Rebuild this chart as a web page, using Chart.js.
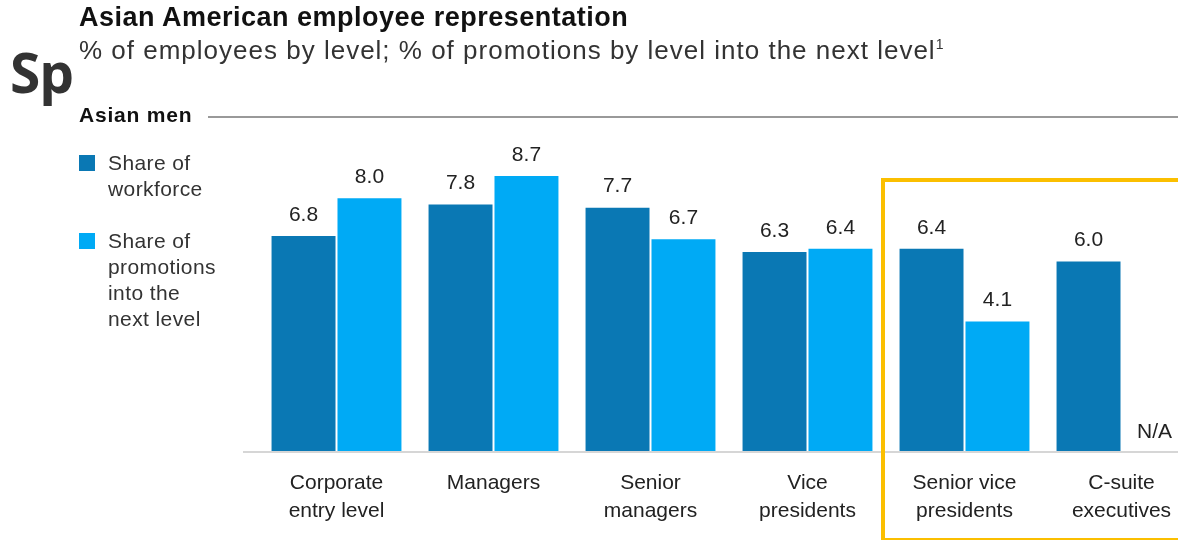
<!DOCTYPE html>
<html>
<head>
<meta charset="utf-8">
<script src="https://cdn.jsdelivr.net/npm/chart.js@4"></script>
<style>
  html, body { margin: 0; padding: 0; background: #fff; overflow: hidden; }
  body { width: 1178px; height: 540px; position: relative; font-family: "Liberation Sans", Arial, sans-serif; color: #222; }
  #wrap { position: absolute; left: 0; top: 0; width: 1210px; height: 540px; }
  .t { position: absolute; white-space: nowrap; }
  #title { left: 79px; top: 2px; font-size: 27px; letter-spacing: 0.5px; font-weight: bold; color: #111; }
  #sub { left: 79px; top: 35px; font-size: 26px; letter-spacing: 1px; color: #333; }
  #sub sup { font-size: 14px; letter-spacing: 0; }
  #sp { left: 10px; top: 34px; font-size: 55px; font-weight: bold; color: #333; font-family: "Open Sans", sans-serif; letter-spacing: -1px; }
  #men { left: 79px; top: 103px; font-size: 21px; letter-spacing: 0.8px; font-weight: bold; color: #111; }
  #menline { position: absolute; left: 208px; top: 116px; width: 970px; height: 2px; background: #999; }
  .sw { position: absolute; width: 16px; height: 16px; }
  .lg { left: 108px; font-size: 21px; letter-spacing: 0.4px; line-height: 26px; color: #333; white-space: normal; }
  #box { position: absolute; left: 881px; top: 178px; width: 310px; height: 356px; border: 4px solid #fbbf00; }
</style>
</head>
<body>
<div id="wrap"><canvas id="barchart" width="1210" height="540"></canvas></div>
<div class="t" id="title">Asian American employee representation</div>
<div class="t" id="sub">% of employees by level; % of promotions by level into the next level<sup>1</sup></div>
<div class="t" id="sp">Sp</div>
<div class="t" id="men">Asian men</div>
<div id="menline"></div>
<div class="sw" style="left:79px;top:155px;background:#0a78b4"></div>
<div class="t lg" style="top:150px">Share of<br>workforce</div>
<div class="sw" style="left:79px;top:233px;background:#00aaf5"></div>
<div class="t lg" style="top:228px">Share of<br>promotions<br>into the<br>next level</div>
<div id="box"></div>
<script>
(function () {
 "use strict";

	var levels = [
		["Corporate", "entry level"],
		["Managers"],
		["Senior", "managers"],
		["Vice", "presidents"],
		["Senior vice", "presidents"],
		["C-suite", "executives"]
	];
	var workforce = [6.8, 7.8, 7.7, 6.3, 6.4, 6.0];
	var promotions = [8.0, 8.7, 6.7, 6.4, 4.1, null];

	// value labels on top of bars, N/A where a value is missing
	var barLabels = {
		id: 'barLabels',
		afterDatasetsDraw: function (chart) {
			var c = chart.ctx;
			var yScale = chart.scales.y;
			c.save();
			c.font = '21px "Liberation Sans", Arial, sans-serif';
			c.fillStyle = '#222';
			c.textAlign = 'center';
			c.textBaseline = 'middle';
			chart.data.datasets.forEach(function (ds, i) {
				var meta = chart.getDatasetMeta(i);
				meta.data.forEach(function (bar, j) {
					var v = ds.data[j];
					if (v === null) {
						c.fillText('N/A', bar.x, yScale.getPixelForValue(0) - 19);
					} else {
						c.fillText(v.toFixed(1), bar.x, bar.y - 21);
					}
				});
			});
			// baseline
			var y0 = yScale.getPixelForValue(0);
			c.strokeStyle = '#d6d6d6';
			c.lineWidth = 2;
			c.beginPath();
			c.moveTo(243, y0 + 1);
			c.lineTo(1210, y0 + 1);
			c.stroke();
			c.restore();
		}
	};

	var ctx = document.getElementById("barchart");
	var barchart = new Chart(ctx, {
		type: 'bar',
		data: {
			labels: levels,
			datasets: [{
				label: 'Share of workforce',
				data: workforce,
				backgroundColor: '#0a78b4'
			}, {
				label: 'Share of promotions into the next level',
				data: promotions,
				backgroundColor: '#00aaf5'
			}]
		},
		options: {
			responsive: false,
			animation: false,
			events: [],
			barPercentage: 0.97,
			categoryPercentage: 0.84,
			layout: {
				padding: { left: 258, right: 10, top: 135, bottom: 0 }
			},
			plugins: {
				legend: { display: false },
				tooltip: { enabled: false }
			},
			scales: {
				x: {
					grid: { display: false },
					border: { display: false },
					afterFit: function (scale) { scale.height = 89; },
					ticks: {
						color: '#222',
						padding: 11,
						maxRotation: 0,
						autoSkip: false,
						font: { family: '"Liberation Sans", Arial, sans-serif', size: 21, lineHeight: 1.3 }
					}
				},
				y: {
					display: false,
					min: 0,
					max: 10
				}
			}
		},
		plugins: [barLabels]
	});
})();
</script>
</body>
</html>
